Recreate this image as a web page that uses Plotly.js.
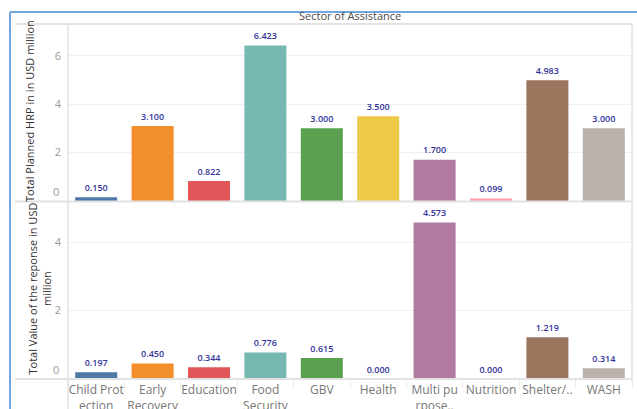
<!DOCTYPE html>
<html>
<head>
<meta charset="utf-8">
<script src="https://cdn.plot.ly/plotly-3.0.1.min.js"></script>
<style>html,body{margin:0;padding:0;background:#fff;}#chart{width:637px;height:409px;}</style>
</head>
<body>
<div id="chart"></div>
<script>
const categories = ['Child Protection','Early Recovery','Education','Food Security','GBV','Health','Multi purpose','Nutrition','Shelter/NFI','WASH'];
const tickLabels = ['Child Prot<br>ection','Early<br>Recovery','Education','Food<br>Security','GBV','Health','Multi pu<br>rpose..','Nutrition','Shelter/..','WASH'];
const plannedHRP = [0.150, 3.100, 0.822, 6.423, 3.000, 3.500, 1.700, 0.099, 4.983, 3.000];
const responseValue = [0.197, 0.450, 0.344, 0.776, 0.615, 0.000, 4.573, 0.000, 1.219, 0.314];
const barColors = ['#4e79a7','#f28e2b','#e15759','#76b7b2','#59a14f','#edc948','#b07aa1','#ff9da7','#9c755f','#bab0ac'];
const topTicks = [2, 4, 6];
const bottomTicks = [2, 4];
const chartTitle = 'Sector of Assistance';
const topAxisTitle = 'Total Planned HRP in in USD million';
const bottomAxisTitle = 'Total Value of the reponse in USD<br>million';

const W = 637, H = 409;
const px = v => v / W;
const py = v => 1 - v / H;
const FONT = 'Open Sans, Noto Sans, sans-serif';
const labelColor = '#33339a';
const fmt = v => v.toFixed(3);

const textTrace = (vals, ax) => ({type:'scatter', mode:'text+markers', x:categories, y:vals, xaxis:'x', yaxis:ax,
   text:vals.map(fmt), textposition:'top center', cliponaxis:false,
   marker:{size:5, opacity:0},
   textfont:{family:FONT, size:9, color:labelColor, weight:600}, hoverinfo:'skip'});

const traces = [
  {type:'bar', x:categories, y:plannedHRP, xaxis:'x', yaxis:'y2', width:0.745,
   marker:{color:barColors}, hoverinfo:'skip'},
  {type:'bar', x:categories, y:responseValue, xaxis:'x', yaxis:'y', width:0.745,
   marker:{color:barColors}, hoverinfo:'skip'},
  textTrace(plannedHRP, 'y2'),
  textTrace(responseValue, 'y')
];

const gridC = '#f0f0f0', frameC = '#e2e2e2';
const layout = {
  width:W, height:H, margin:{l:0,r:0,t:0,b:0},
  paper_bgcolor:'#fff', plot_bgcolor:'#fff',
  showlegend:false, hovermode:false, font:{family:FONT},
  xaxis:{domain:[px(68), px(632)], anchor:'y', type:'category', range:[-0.5, categories.length - 0.5],
    tickvals:categories, ticktext:tickLabels, tickangle:0,
    tickfont:{family:FONT, size:12, color:'#777'},
    showgrid:false, zeroline:false, showline:false,
    ticks:'outside', tickson:'boundaries', ticklen:9, tickcolor:'#ececec', tickwidth:1,
    ticklabelstandoff:2, fixedrange:true},
  yaxis:{domain:[py(379), py(202)], anchor:'x', range:[0, 5.17],
    tickvals:bottomTicks, tickfont:{family:FONT, size:11, color:'#999'},
    showgrid:true, gridcolor:gridC, zeroline:false, showline:false,
    ticks:'', ticklabelstandoff:6, fixedrange:true},
  yaxis2:{domain:[py(201), py(24)], anchor:'x', range:[0, 7.31],
    tickvals:topTicks, tickfont:{family:FONT, size:11, color:'#999'},
    showgrid:true, gridcolor:gridC, zeroline:false, showline:false,
    ticks:'', ticklabelstandoff:6, fixedrange:true},
  shapes:[
    {type:'line', xref:'paper', yref:'paper', x0:px(10), x1:px(10), y0:0, y1:py(12), line:{color:'#6fa8dc', width:2}},
    {type:'line', xref:'paper', yref:'paper', x0:px(10), x1:1, y0:py(12), y1:py(12), line:{color:'#6fa8dc', width:2}},
    {type:'line', xref:'paper', yref:'paper', x0:px(15), x1:px(632), y0:py(24), y1:py(24), line:{color:frameC, width:2}},
    {type:'line', xref:'paper', yref:'paper', x0:px(15), x1:px(632), y0:py(201.5), y1:py(201.5), line:{color:frameC, width:2}},
    {type:'line', xref:'paper', yref:'paper', x0:px(15), x1:px(632), y0:py(379), y1:py(379), line:{color:frameC, width:2}},
    {type:'line', xref:'paper', yref:'paper', x0:px(68), x1:px(68), y0:0, y1:py(24), line:{color:frameC, width:1.5}},
    {type:'line', xref:'paper', yref:'paper', x0:px(632), x1:px(632), y0:py(381), y1:py(24), line:{color:frameC, width:1.5}}
  ],
  annotations:[
    {text:chartTitle, xref:'paper', yref:'paper', x:px(350), y:py(16), xanchor:'center', yanchor:'middle', showarrow:false,
     font:{family:FONT, size:11, color:'#4a4a4a'}},
    {text:topAxisTitle, xref:'paper', yref:'paper', x:px(30), y:py(111), xanchor:'center', yanchor:'middle', textangle:-90, showarrow:false,
     font:{family:FONT, size:11, color:'#333'}},
    {text:bottomAxisTitle, xref:'paper', yref:'paper', x:px(38.5), y:py(289), xanchor:'center', yanchor:'middle', textangle:-90, showarrow:false,
     font:{family:FONT, size:11, color:'#333'}, align:'center'},
    {text:'0', xref:'paper', yref:'y2', x:px(61), y:0, xanchor:'right', yanchor:'bottom', showarrow:false,
     font:{family:FONT, size:11, color:'#999'}},
    {text:'0', xref:'paper', yref:'y', x:px(61), y:0, xanchor:'right', yanchor:'bottom', showarrow:false,
     font:{family:FONT, size:11, color:'#999'}}
  ]
};

Plotly.newPlot('chart', traces, layout, {displayModeBar:false, staticPlot:true});
</script>
</body>
</html>
